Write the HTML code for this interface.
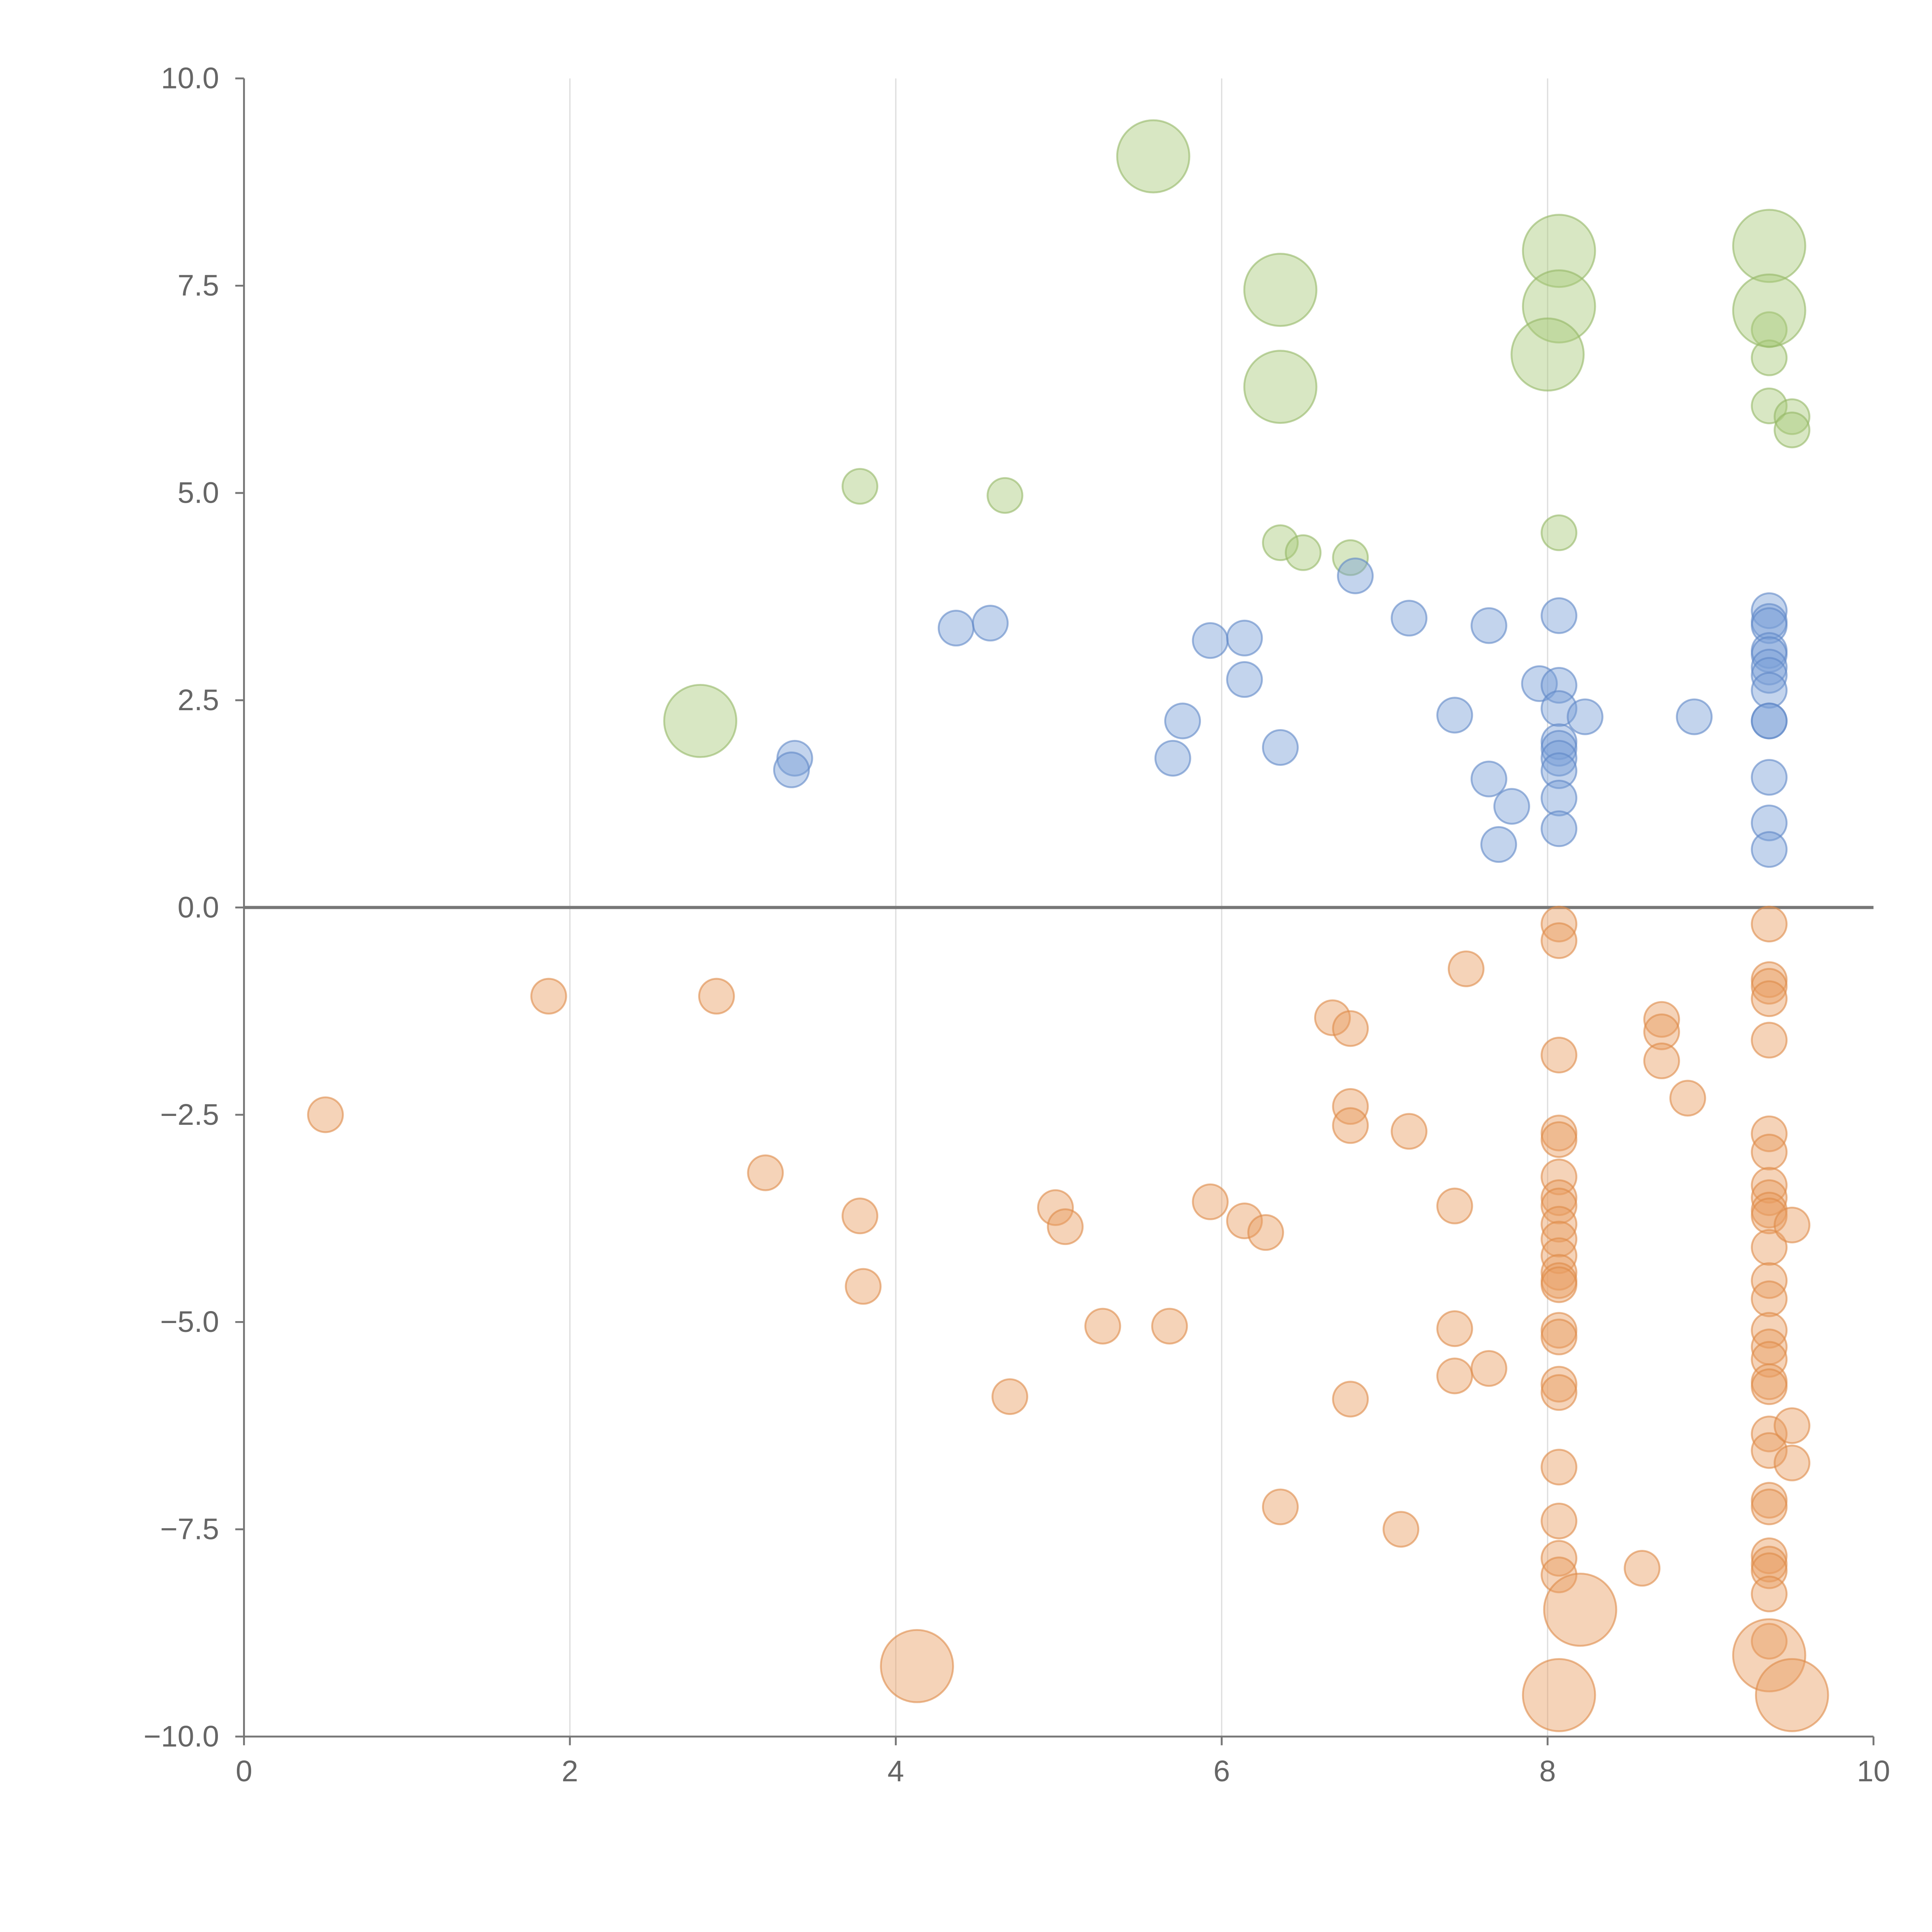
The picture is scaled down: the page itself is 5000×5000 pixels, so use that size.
<!DOCTYPE html>
<html><head><meta charset="utf-8"><style>
html,body{margin:0;padding:0;background:#fff;}
svg{display:block;}
text{font-family:"Liberation Sans",sans-serif;fill:#666;font-size:24px;}
</style></head><body>
<svg id="chart" width="5000" height="5000" viewBox="0 0 1552 1552" xmlns="http://www.w3.org/2000/svg">
<g id="grid"></g>
<g id="axes"></g>
<g id="marks"></g>
</svg>
<script>
const xTicks=[0,2,4,6,8,10];
const yTicks=[10.0,7.5,5.0,2.5,0.0,-2.5,-5.0,-7.5,-10.0];
const yTickLabels=["10.0","7.5","5.0","2.5","0.0","\u22122.5","\u22125.0","\u22127.5","\u221210.0"];
const greenX=[3.78,4.67,6.36,6.5,6.79,8.07,9.36,9.36,9.36,9.5,9.5];
const greenY=[5.08,4.97,4.4,4.28,4.22,4.52,6.97,6.63,6.05,5.92,5.76];
const greenBigX=[5.58,6.36,6.36,8.07,8.07,8.0,9.36,9.36,2.8];
const greenBigY=[9.06,7.45,6.28,7.92,7.25,6.67,7.98,7.2,2.25];
const blueX=[3.38,3.36,4.37,4.58,5.93,6.14,6.14,5.76,5.7,6.36,6.82,7.15,7.64,7.43,7.64,7.78,7.7,7.95,8.07,8.07,8.07,8.07,8.07,8.07,8.07,8.07,8.07,8.23,8.9,9.36,9.36,9.36,9.36,9.36,9.36,9.36,9.36,9.36,9.36,9.36,9.36,9.36];
const blueY=[1.8,1.66,3.37,3.43,3.22,3.25,2.75,2.25,1.8,1.93,4.0,3.49,3.4,2.32,1.55,1.22,0.76,2.7,3.52,2.68,2.4,2.0,1.92,1.8,1.65,1.32,0.95,2.3,2.3,3.58,3.45,3.4,3.1,3.05,2.9,2.8,2.62,2.25,2.25,1.57,1.02,0.7];
const orangeX=[0.5,1.87,2.9,3.2,3.78,3.8,4.7,4.98,5.04,5.27,5.68,5.93,6.14,6.27,6.36,6.68,6.79,6.79,6.79,6.79,7.1,7.15,7.43,7.43,7.43,7.5,7.64,8.07,8.07,8.07,8.07,8.07,8.07,8.07,8.07,8.07,8.07,8.07,8.07,8.07,8.07,8.07,8.07,8.07,8.07,8.07,8.07,8.07,8.07,8.58,8.7,8.7,8.7,8.86,9.36,9.36,9.36,9.36,9.36,9.36,9.36,9.36,9.36,9.36,9.36,9.36,9.36,9.36,9.36,9.36,9.36,9.36,9.36,9.36,9.36,9.36,9.36,9.36,9.36,9.36,9.36,9.36,9.5,9.5,9.5];
const orangeY=[-2.5,-1.07,-1.07,-3.2,-3.72,-4.57,-5.9,-3.62,-3.85,-5.05,-5.05,-3.55,-3.78,-3.92,-7.23,-1.33,-1.46,-2.4,-2.63,-5.93,-7.5,-2.7,-3.6,-5.08,-5.65,-0.74,-5.56,-0.2,-0.4,-1.78,-2.72,-2.8,-3.25,-3.5,-3.6,-3.82,-4.0,-4.2,-4.4,-4.5,-4.55,-5.1,-5.18,-5.75,-5.85,-6.75,-7.4,-7.85,-8.05,-7.97,-1.35,-1.5,-1.85,-2.3,-0.2,-0.87,-0.95,-1.1,-1.6,-2.73,-2.95,-3.35,-3.5,-3.65,-3.72,-4.1,-4.5,-4.72,-5.1,-5.3,-5.45,-5.72,-5.78,-6.35,-6.55,-7.15,-7.23,-7.82,-7.92,-8.0,-8.28,-8.85,-3.83,-6.25,-6.7];
const orangeBigX=[4.13,8.07,8.2,9.36,9.5];
const orangeBigY=[-9.15,-9.5,-8.47,-9.02,-9.5];

const NS="http://www.w3.org/2000/svg";
const X0=196,X1=1505,Y0=1395,Y1=63;
function sx(v){return X0+(v-0)/(10-0)*(X1-X0);}
function sy(v){return Y0-(v+10)/20*(Y0-Y1);}
function mk(tag,attrs,parent){const e=document.createElementNS(NS,tag);for(const k in attrs)e.setAttribute(k,attrs[k]);parent.appendChild(e);return e;}
const grid=document.getElementById('grid'),axes=document.getElementById('axes'),marks=document.getElementById('marks');
xTicks.forEach(t=>{
  if(t>0&&t<10){const g=mk('line',{x1:sx(t),x2:sx(t),y1:Y1,y2:Y0,stroke:'#ddd','stroke-width':1},grid);
  
  }
  mk('line',{x1:sx(t),x2:sx(t),y1:Y0,y2:Y0+7,stroke:'#777','stroke-width':1.5},axes);
  const tx=mk('text',{x:sx(t),y:Y0+36,'text-anchor':'middle'},axes);tx.textContent=t;
  
  
});
yTicks.forEach((t,i)=>{
  mk('line',{x1:X0-7,x2:X0,y1:sy(t),y2:sy(t),stroke:'#777','stroke-width':1.5},axes);
  const tx=mk('text',{x:X0-20,y:sy(t)+8,'text-anchor':'end'},axes);tx.textContent=yTickLabels[i];
  
  
});
const xa=mk('line',{x1:X0,x2:X1,y1:Y0,y2:Y0,stroke:'#777','stroke-width':1.5},axes);


const ya=mk('line',{x1:X0,x2:X0,y1:Y1,y2:Y0,stroke:'#777','stroke-width':1.5},axes);


const zl=mk('line',{x1:X0,x2:X1,y1:sy(0),y2:sy(0),stroke:'#777','stroke-width':2.5},axes);


function draw(xs,ys,r,fill,stroke,name){
  xs.forEach((x,i)=>{
    const c=mk('circle',{cx:sx(x),cy:sy(ys[i]),r:r,fill:fill,'fill-opacity':0.45,stroke:stroke,'stroke-opacity':0.6,'stroke-width':1.5},marks);
    
    
  });
}
draw(greenX,greenY,14,'#a9c97a','#94b865','bubble-green');
draw(greenBigX,greenBigY,29,'#a9c97a','#94b865','bubble-green-large');
draw(blueX,blueY,14,'#7b9fd6','#5f87c6','bubble-blue');
draw(orangeX,orangeY,14,'#e89e62','#dd8a48','bubble-orange');
draw(orangeBigX,orangeBigY,29,'#e89e62','#dd8a48','bubble-orange-large');
</script>
</body></html>
